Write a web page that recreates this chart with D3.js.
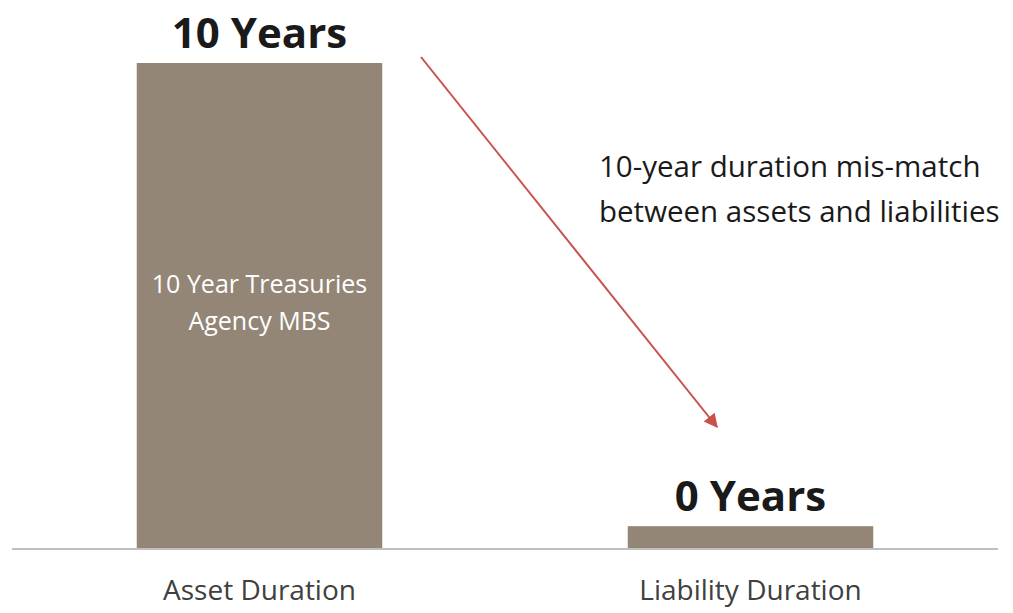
<!DOCTYPE html>
<html>
<head>
<meta charset="utf-8">
<script src="https://cdn.jsdelivr.net/npm/d3@7"></script>
<style>
  body { margin: 0; background: #fff; }
  svg { display: block; font-family: "Open Sans", "Noto Sans", sans-serif; }
</style>
</head>
<body>
<svg id="chart" width="1013" height="613"></svg>
<script>
const categories = ["Asset Duration", "Liability Duration"];
const durations = [10, 0.45];
const valueLabels = ["10 Years", "0 Years"];
const holdings = ["10 Year Treasuries", "Agency MBS"];
const note = ["10-year duration mis-match", "between assets and liabilities"];

const svg = d3.select("#chart");
const baseY = 548;

const x = d3.scaleBand()
  .domain(categories)
  .range([14, 996])
  .paddingInner(0.5)
  .paddingOuter(0.25);

const y = d3.scaleLinear()
  .domain([0, 10])
  .range([baseY, 63]);

// bars
svg.selectAll(".bar")
  .data(categories)
  .join("rect")
  .attr("class", "bar")
  .attr("x", d => x(d))
  .attr("y", (d, i) => y(durations[i]))
  .attr("width", x.bandwidth())
  .attr("height", (d, i) => baseY - y(durations[i]))
  .style("fill", "#948676");

// baseline
svg.append("line")
  .attr("x1", 12).attr("x2", 998)
  .attr("y1", baseY + 1).attr("y2", baseY + 1)
  .style("stroke", "#bfbfbf")
  .style("stroke-width", 2);

// value labels on top
svg.selectAll(".val")
  .data(categories)
  .join("text")
  .attr("class", "val")
  .attr("x", d => x(d) + x.bandwidth() / 2)
  .attr("y", (d, i) => y(durations[i]) - 15)
  .style("text-anchor", "middle")
  .style("font-size", "42px")
  .style("font-weight", "bold")
  .style("fill", "#1a1a1a")
  .text((d, i) => valueLabels[i]);

// category labels
svg.selectAll(".cat")
  .data(categories)
  .join("text")
  .attr("class", "cat")
  .attr("x", d => x(d) + x.bandwidth() / 2)
  .attr("y", 600)
  .style("text-anchor", "middle")
  .style("font-size", "28px")
  .style("fill", "#404040")
  .text(d => d);

// holdings inside the asset bar
svg.selectAll(".hold")
  .data(holdings)
  .join("text")
  .attr("class", "hold")
  .attr("x", x(categories[0]) + x.bandwidth() / 2)
  .attr("y", (d, i) => 293 + i * 37)
  .style("text-anchor", "middle")
  .style("font-size", "25px")
  .style("fill", "#ffffff")
  .text(d => d);

// annotation text
svg.selectAll(".note")
  .data(note)
  .join("text")
  .attr("class", "note")
  .attr("x", 599)
  .attr("y", (d, i) => 177 + i * 45)
  .style("font-size", "29.5px")
  .style("fill", "#1a1a1a")
  .text(d => d);

// arrow
svg.append("defs").append("marker")
  .attr("id", "head")
  .attr("viewBox", "0 0 10 10")
  .attr("refX", 9).attr("refY", 5)
  .attr("markerWidth", 9).attr("markerHeight", 8)
  .attr("markerUnits", "userSpaceOnUse")
  .attr("orient", "auto")
  .append("path")
  .attr("d", "M0,0 L10,5 L0,10 Z")
  .style("fill", "#c9504b");

// scale marker to ~18px
d3.select("#head")
  .attr("markerWidth", 18).attr("markerHeight", 14);

svg.append("line")
  .attr("x1", 421).attr("y1", 57)
  .attr("x2", 717).attr("y2", 427)
  .style("stroke", "#c9504b")
  .style("stroke-width", 2)
  .attr("marker-end", "url(#head)");
</script>
</body>
</html>
